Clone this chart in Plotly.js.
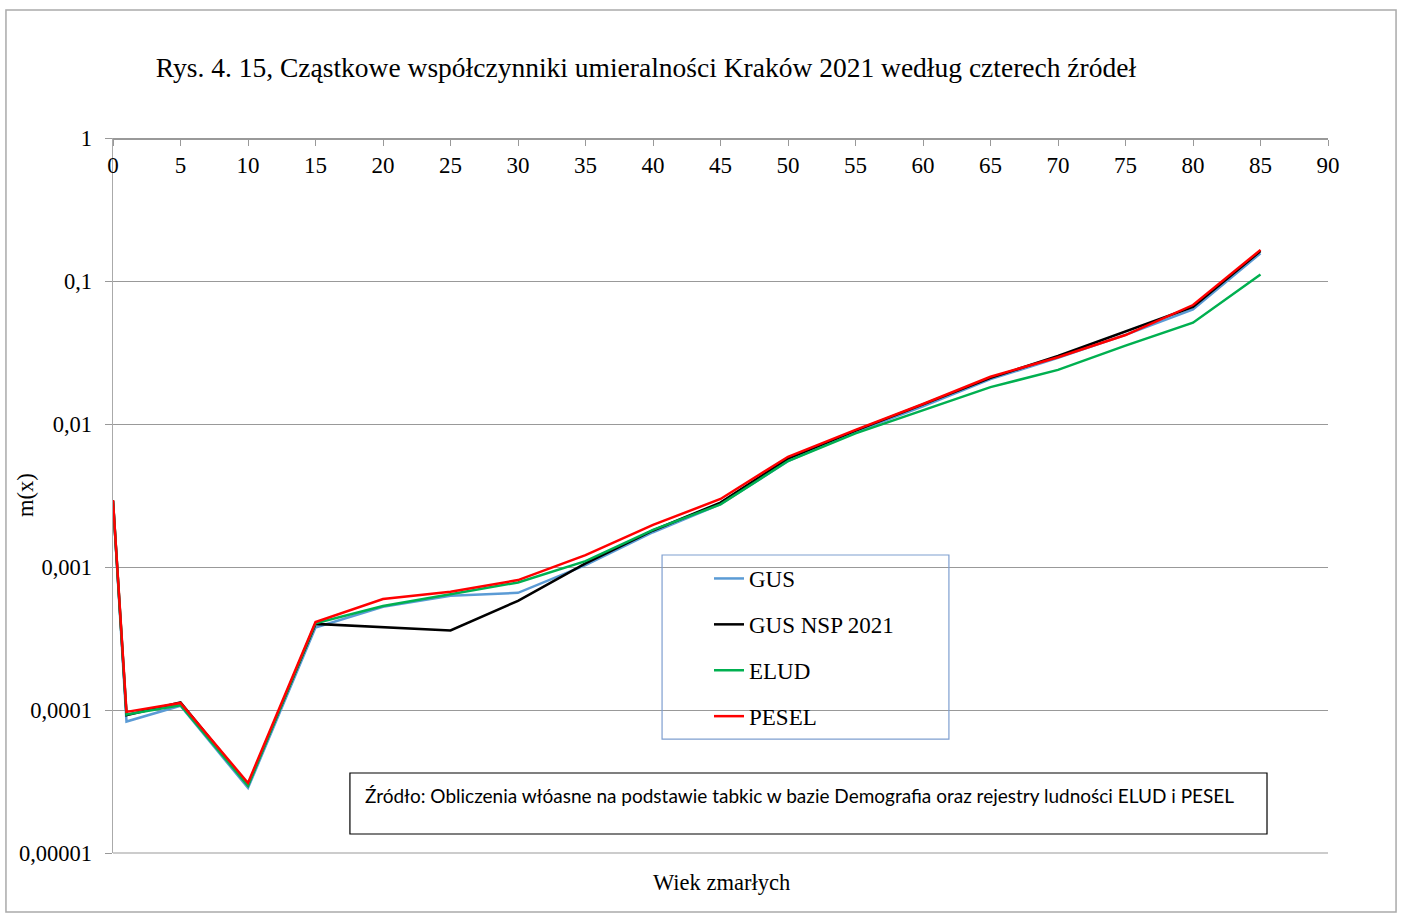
<!DOCTYPE html>
<html>
<head>
<meta charset="utf-8">
<script src="https://cdn.plot.ly/plotly-3.0.1.min.js"></script>
<style>html,body{margin:0;padding:0;background:#fff;}#chart{width:1403px;height:913px;}</style>
</head>
<body>
<div id="chart"></div>
<script>
const ages = [0,1,5,10,15,20,25,30,35,40,45,50,55,60,65,70,75,80,85];
const gus = [0.0029,0.000083,0.000107,0.0000285,0.000377,0.000527,0.00063,0.00066,0.00103,0.00175,0.00275,0.0055,0.0088,0.0133,0.0206,0.029,0.042,0.0634,0.156];
const gusNsp = [0.0029,0.000092,0.000113,0.00003,0.0004,0.00038,0.00036,0.00058,0.00106,0.0018,0.00282,0.00572,0.009,0.0137,0.021,0.0299,0.0447,0.066,0.162];
const elud = [0.0029,0.000093,0.000108,0.0000295,0.000404,0.000534,0.000644,0.00078,0.0011,0.00182,0.00274,0.00551,0.0086,0.0125,0.0181,0.0239,0.0353,0.0511,0.111];
const pesel = [0.00294,0.000097,0.000112,0.0000309,0.000412,0.000597,0.000672,0.00081,0.00121,0.00197,0.00299,0.0059,0.0091,0.0138,0.0214,0.0293,0.0419,0.0679,0.165];
const seriesNames = ['GUS','GUS NSP 2021','ELUD','PESEL'];
const yTickVals = [0.00001,0.0001,0.001,0.01,0.1,1];
const yTickText = ['0,00001','0,0001','0,001','0,01','0,1','1'];
const titleText = 'Rys. 4. 15, Cząstkowe współczynniki umieralności Kraków 2021 według czterech źródeł';
const xTitle = 'Wiek zmarłych';
const yTitle = 'm(x)';
const sourceText = 'Źródło: Obliczenia włóasne na podstawie tabkic w bazie Demografia oraz rejestry ludności ELUD i PESEL';

const serif = 'Liberation Serif, Times New Roman, serif';
const colors = ['#5B9BD5','#000000','#00B050','#FF0000'];
const data = [gus, gusNsp, elud, pesel].map((ys,i)=>({
  x: ages, y: ys, type:'scatter', mode:'lines', name: seriesNames[i],
  line:{color:colors[i], width:2.5}, legendgroup:'g'+i
}));

const layout = {
  width:1403, height:913,
  margin:{l:113, r:75, t:138, b:60},
  paper_bgcolor:'#fff', plot_bgcolor:'#fff',
  font:{family:serif, size:22, color:'#000'},
  showlegend:true,
  title:{text:titleText, font:{family:serif, size:27.5, color:'#000'}, xref:'container', x:0.4604, xanchor:'center', yref:'container', y:0.9266, yanchor:'middle'},
  xaxis:{
    range:[0,90], dtick:5, tick0:0, anchor:'free', position:1, side:'bottom', ticks:'outside', ticklen:6, tickcolor:'#999',
    showline:true, linecolor:'#999', linewidth:1.5,
    showgrid:false, zeroline:false, tickfont:{family:serif, size:23, color:'#000'}
  },
  yaxis:{
    type:'log', range:[-5,0], tickvals:yTickVals, ticktext:yTickText,
    ticks:'outside', ticklen:7, tickcolor:'#999', showline:true, linecolor:'#aaa', linewidth:1.5,
    showgrid:true, gridcolor:'#999', gridwidth:1, zeroline:false,
    tickfont:{family:serif, size:22.5, color:'#000'}, ticklabelstandoff:8
  },
  legend:{
    x:(709-113)/1215, y:(853-557)/715, xanchor:'left', yanchor:'top', bgcolor:'rgba(0,0,0,0)', borderwidth:0,
    font:{family:serif, size:23, color:'#000'}, tracegroupgap:13, traceorder:'grouped'
  },
  shapes:[
    {type:'rect', xref:'paper', yref:'paper', x0:-0.0881, x1:1.056, y0:-0.0825, y1:1.179, line:{color:'#aaa', width:1.5}},
    {type:'line', xref:'paper', yref:'paper', x0:0, x1:1, y0:0, y1:0, line:{color:'#999', width:1.2}, layer:'below'},
    {type:'rect', xref:'paper', yref:'paper', x0:0.4519, x1:0.688, y0:0.1594, y1:0.4168, line:{color:'#7F9FD0', width:1.2}, fillcolor:'rgba(255,255,255,0)'},
    {type:'rect', xref:'paper', yref:'paper', x0:0.195, x1:0.9498, y0:0.0266, y1:0.1119, line:{color:'#000', width:1.2}, fillcolor:'#fff'}
  ],
  annotations:[
    {text:xTitle, xref:'paper', yref:'paper', x:(721-113)/1215, y:(853-882)/715, xanchor:'center', yanchor:'middle', showarrow:false, font:{family:serif, size:22.5, color:'#000'}},
    {text:yTitle, xref:'paper', yref:'paper', x:(25-113)/1215, y:(853-495)/715, xanchor:'center', yanchor:'middle', textangle:-90, showarrow:false, font:{family:serif, size:22.5, color:'#000'}},
    {text:sourceText, xref:'paper', yref:'paper', x:(363-113)/1215, y:(853-795)/715, xanchor:'left', yanchor:'middle', showarrow:false, font:{family:'Lato, Liberation Sans, sans-serif', size:19, color:'#000'}}
  ]
};
Plotly.newPlot('chart', data, layout, {displayModeBar:false, staticPlot:true});
</script>
</body>
</html>
